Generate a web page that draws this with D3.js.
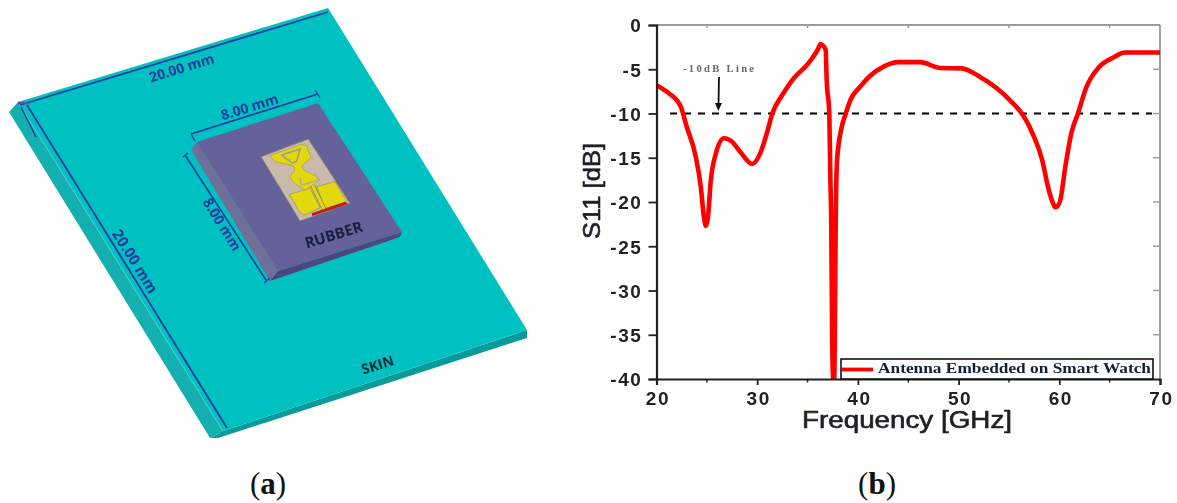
<!DOCTYPE html>
<html><head><meta charset="utf-8">
<script src="https://cdn.jsdelivr.net/npm/d3@7/dist/d3.min.js"></script>
<style>html,body{margin:0;padding:0;background:#fff;overflow:hidden}svg{display:block}</style>
</head><body><svg id="c" width="1177" height="503"></svg>
<script>
// ---- chart data ----
const freq = [20,21.2,22.4,23,23.9,24.4,24.7,24.9,25.1,25.4,25.9,26.7,27.5,28.3,29.5,30.3,31,31.5,32.5,33.5,35.1,36,36.3,36.5,36.8,36.9,37.16,37.26,37.35,37.45,37.55,37.65,37.7,37.8,37.93,38.4,38.8,39.25,40.2,41.2,42.55,44,46.2,48.2,50.3,52.1,53.8,55.4,56.4,57.4,58.3,58.9,59.4,59.6,59.8,60.1,60.6,61.2,61.85,62.7,64,65.4,66.5,70];
const s11  = [-6.8,-7.7,-9.2,-11.5,-14.9,-18.3,-21.6,-22.7,-21.8,-17.5,-14.5,-12.8,-13.2,-14.3,-15.7,-14.5,-12.05,-10,-7.9,-6.2,-4.3,-2.8,-2.15,-2.3,-2.8,-6.2,-10,-17.1,-22,-36,-40,-40,-36,-22,-15.25,-11.5,-10,-8.5,-7,-5.76,-4.7,-4.2,-4.2,-4.86,-4.9,-5.84,-7.15,-8.85,-10.17,-12.4,-15.25,-18.4,-20.2,-20.6,-20.5,-19.8,-16,-12.2,-10,-7,-4.7,-3.65,-3.1,-3.1];
const xTicks = [20,30,40,50,60,70];
const xMinor = [25,35,45,55,65];
const yTicks = [0,-5,-10,-15,-20,-25,-30,-35,-40];
const threshold = -10;
const legendLabel = "Antenna Embedded on Smart Watch";
const xTitle = "Frequency [GHz]";
const yTitle = "S11 [dB]";

const svg = d3.select("#c");
const soft = svg.append("g").style("filter","blur(0.6px)");

// ---- panel (a): illustration ----
const skinTop   = [[18,102],[328,8],[527,330],[223,431]];
const skinLeft  = [[9,112],[18,102],[223,431],[210,438]];
const skinFront = [[223,431],[527,330],[527,338],[218,438],[210,438]];
const rubberTop   = [[197,142],[318,103],[402,232],[278,271]];
const rubberLeft  = [[191,150],[197,142],[278,271],[270,281]];
const rubberFront = [[278,271],[402,232],[400,237],[270,281]];
const z = a => a.map(([X,Y]) => [255+X/3, 135+Y/3]);
const sub    = z([[18,65],[160,12],[285,205],[135,258]]);
const upper  = z([[45,62],[140,28],[155,32],[168,68],[140,92],[145,105],[185,125],[195,135],[150,165],[118,145],[105,125],[120,105],[115,92],[60,80]]);
const hole   = z([[80,60],[135,42],[125,78],[112,85]]);
const slot   = z([[135,130],[140,150],[190,135],[180,112]]);
const patchL = z([[103,178],[165,160],[195,218],[150,240],[135,232]]);
const patchR = z([[185,155],[240,140],[275,200],[210,220]]);
const red    = z([[170,235],[270,200],[280,207],[172,243]]);
const feedA  = z([[172,150],[207,222]]);

const a = soft.append("g");
const poly = (p,f,s,w) => a.append("polygon").attr("points",p.join(" ")).attr("fill",f).attr("stroke",s||"none").attr("stroke-width",w||0);
const seg = (p,c,w) => a.append("path").attr("d",d3.line()(p)).attr("fill","none").attr("stroke",c).attr("stroke-width",w).attr("stroke-linejoin","round");
poly(skinLeft,"#14b0b0"); poly(skinFront,"#0b9a9a"); poly(skinTop,"#00c1c1");
seg([[18,102],[223,431]],"#4fd3cc",0.8);
const blue = "#1c3c9c";
seg([[20,105],[328,12]],blue,1.8);
seg([[27,105],[227,428]],blue,1.8);
seg([[21,107],[36,137]],blue,1.4);
seg([[18,103],[30,103]],"#5a52b0",2.5);
poly(rubberLeft,"#706f97"); poly(rubberFront,"#4a477c"); poly(rubberTop,"#64619b");
seg([[191,134],[318,94]],blue,1.6);
seg([[191,134],[195,141]],blue,1.3); seg([[315,90],[320,98]],blue,1.3);
seg([[185,155],[266,280]],blue,1.6);
seg([[183,157],[188,153]],blue,1.3); seg([[264,283],[270,278]],blue,1.3);
poly(sub,"#c9b9a9","#85826f",0.8);
poly(patchL,"#e3d80c","#8d8b50",0.6); poly(patchR,"#e3d80c","#8d8b50",0.6);
poly(upper,"#e3d80c","#8d8b50",0.5);
poly(hole,"#e3d80c","#a09f88",1.6);
seg(slot,"#b2b09a",1.8);
seg(feedA,"#8d8b50",4.6); seg(feedA,"#e3d80c",3);
poly(red,"#c01c1c");
const aText = (t,x,y,r,size,col,w) => a.append("text").text(t).attr("transform",`translate(${x},${y}) rotate(${r})`)
  .attr("text-anchor","middle").attr("dominant-baseline","middle").attr("font-family","'Open Sans',sans-serif")
  .attr("font-size",size).attr("font-weight",w||700).attr("fill",col);
aText("20.00 mm",182,69,-17,14,blue);
aText("8.00 mm",250,108,-17,14,blue);
aText("8.00 mm",221,225,58,14,blue);
aText("20.00 mm",134,262,58,15,blue);
aText("RUBBER",334,236,-17,15,"#15203f",700);
aText("SKIN",378,366,-17,14,"#0d2a3a",700);

// ---- panel (b): chart ----
const x = d3.scaleLinear().domain([20,70]).range([656.5,1160]);
const y = d3.scaleLinear().domain([0,-40]).range([25,379]);
const b = soft.append("g");
const dark = "#222", grey = "#9a9a9a";
const font = "'Liberation Sans',Arial,sans-serif";

// frame
b.append("line").attr("x1",x(20)).attr("x2",x(70)).attr("y1",y(0)).attr("y2",y(0)).attr("stroke",grey).attr("stroke-width",1.8);
b.append("line").attr("x1",x(70)).attr("x2",x(70)).attr("y1",y(0)).attr("y2",y(-40)).attr("stroke",grey).attr("stroke-width",1.8);
b.selectAll(".rt").data(yTicks.slice(1,-1)).join("line").attr("x1",x(70)-7).attr("x2",x(70)).attr("y1",y).attr("y2",y).attr("stroke",grey).attr("stroke-width",1.4);
b.selectAll(".tp").data(xMinor).join("line").attr("x1",x).attr("x2",x).attr("y1",y(0)).attr("y2",y(0)+3).attr("stroke",grey).attr("stroke-width",1.4);

// threshold
b.append("line").attr("x1",670).attr("x2",1152).attr("y1",y(threshold)).attr("y2",y(threshold))
  .attr("stroke","#000").attr("stroke-width",2).attr("stroke-dasharray","7 7");

// curve
svg.append("clipPath").attr("id","plot").append("rect").attr("x",x(20)).attr("y",y(0)).attr("width",x(70)-x(20)).attr("height",y(-40)-y(0));
b.append("path").datum(freq.map((f,i)=>[f,s11[i]]))
  .attr("d",d3.line().x(d=>x(d[0])).y(d=>y(d[1])).curve(d3.curveMonotoneX))
  .attr("fill","none").attr("stroke","#ff0000").attr("stroke-width",4.6).attr("stroke-linejoin","round")
  .attr("clip-path","url(#plot)");

// axes (d3 generators)
const ax = d3.axisBottom(x).tickValues(xTicks).tickSize(6).tickFormat(d3.format("d"));
const gx = b.append("g").attr("transform",`translate(0,${y(-40)})`).call(ax);
const ay = d3.axisLeft(y).tickValues(yTicks).tickSize(8).tickFormat(d=>d===0?"0":"-"+Math.abs(d));
const gy = b.append("g").attr("transform",`translate(${x(20)},0)`).call(ay);
b.selectAll(".mn").data(xMinor).join("line").attr("x1",x).attr("x2",x).attr("y1",y(-40)).attr("y2",y(-40)+3.5).attr("stroke",dark).attr("stroke-width",1.5);
[gx,gy].forEach(g=>{
  g.selectAll("path").attr("stroke",dark).attr("stroke-width",2.2);
  g.selectAll("line").attr("stroke",dark).attr("stroke-width",1.8);
  g.selectAll("text").attr("font-family",font).attr("font-weight",700).attr("font-size",19).attr("fill",dark).attr("letter-spacing",1.6);
});
gx.selectAll("text").attr("y",null).attr("dy",null).attr("transform","translate(1,26)").attr("text-anchor","middle");
gy.selectAll("text").attr("x",-14).attr("dy","0.36em").attr("text-anchor","end");

// titles
b.append("text").text(xTitle).attr("x",907).attr("y",428).attr("text-anchor","middle")
  .attr("font-family",font).attr("font-size",23).attr("fill","#1f1f2a").attr("stroke","#1f1f2a").attr("stroke-width",0.6)
  .attr("textLength",210).attr("lengthAdjust","spacingAndGlyphs");
b.append("text").text(yTitle).attr("transform","translate(600,191) rotate(-90)").attr("text-anchor","middle")
  .attr("font-family",font).attr("font-size",24).attr("fill","#1f1f2a").attr("stroke","#1f1f2a").attr("stroke-width",0.6)
  .attr("textLength",96).attr("lengthAdjust","spacingAndGlyphs");

// annotation
b.append("text").text("-10dB Line").attr("x",683).attr("y",72).attr("font-family","'Liberation Serif',serif")
  .attr("font-size",10.5).attr("font-weight",700).attr("fill","#666").attr("textLength",71).attr("lengthAdjust","spacing");
b.append("line").attr("x1",719).attr("y1",77).attr("x2",718.5).attr("y2",104).attr("stroke","#111").attr("stroke-width",1.8);
b.append("path").attr("d",d3.line()([[715,103],[722,103],[718.3,111]])).attr("fill","#111");

// legend
b.append("rect").attr("x",841).attr("y",359).attr("width",312).attr("height",20).attr("fill","#fff").attr("stroke","#111").attr("stroke-width",1.6);
b.append("line").attr("x1",842).attr("x2",873).attr("y1",369.5).attr("y2",369.5).attr("stroke","#ff0000").attr("stroke-width",3.8);
b.append("text").text(legendLabel).attr("x",878).attr("y",373).attr("font-family","'Liberation Serif',serif")
  .attr("font-size",14.5).attr("font-weight",700).attr("fill","#10203a").attr("textLength",273).attr("lengthAdjust","spacingAndGlyphs");

// sub-figure labels
const cap = (l,cx) => { const t = svg.append("text").attr("x",cx).attr("y",494).attr("text-anchor","middle")
    .attr("font-family","'Liberation Serif',serif").attr("font-size",31).attr("fill","#111");
  t.append("tspan").text("("); t.append("tspan").text(l).attr("font-weight",700); t.append("tspan").text(")"); };
cap("a",268); cap("b",877);
</script></body></html>
